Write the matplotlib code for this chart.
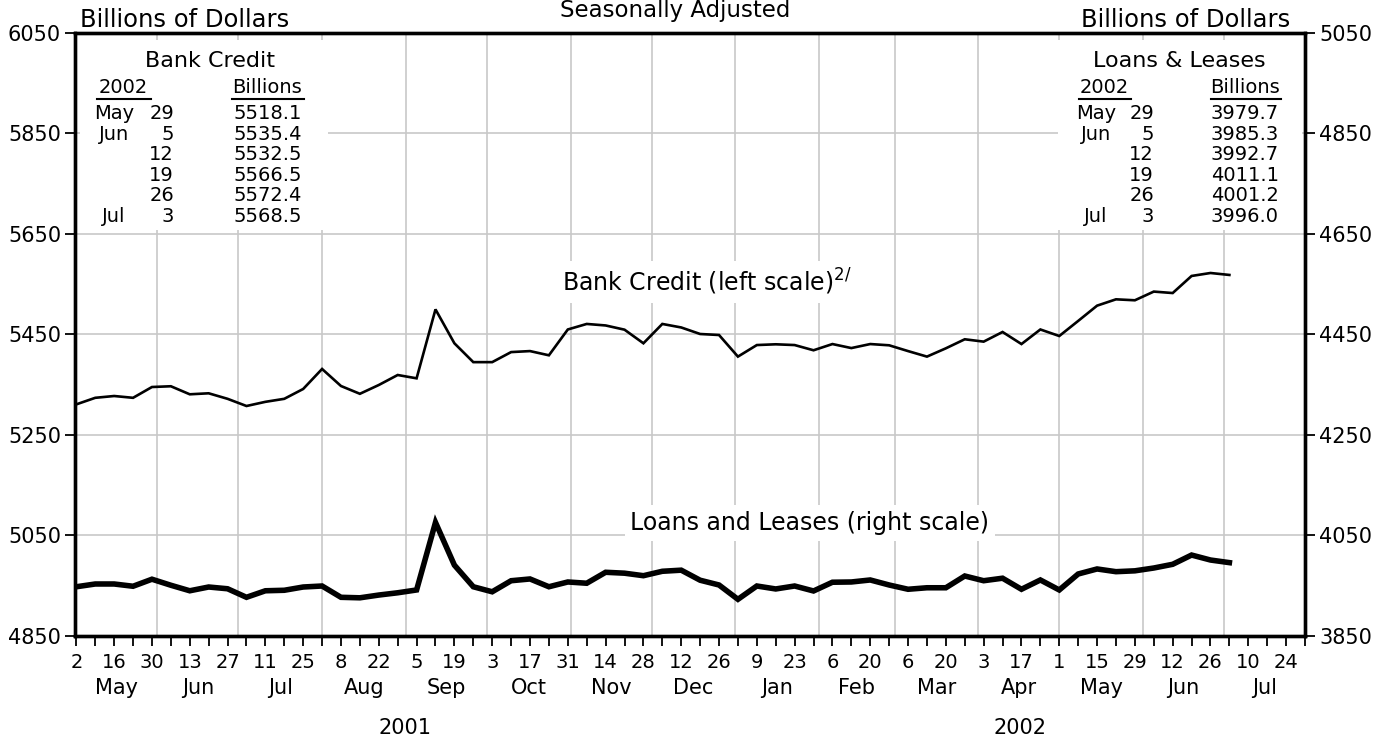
import numpy as np
import pandas as pd
import matplotlib
matplotlib.use('Agg')
import matplotlib.pyplot as plt
import matplotlib.dates as mdates
from matplotlib.patches import Rectangle
from matplotlib.lines import Line2D

# weekly observations (Wednesdays), May 2 2001 .. Jul 3 2002
weeks = pd.date_range('2001-05-02', periods=62, freq='7D')

bank_credit = [5311, 5324, 5327.6, 5324, 5345.5, 5347, 5331, 5333, 5322, 5307.7,
               5316, 5322, 5341.6, 5381.4, 5347.5, 5332, 5349.5, 5369.4, 5362.8, 5500,
               5432.5, 5395, 5395, 5415, 5417, 5408.6, 5460, 5471, 5468, 5459.6,
               5432.5, 5471, 5464, 5451, 5449, 5406, 5429, 5430.5, 5429, 5418.6,
               5431, 5423, 5431, 5428.5, 5417, 5406, 5422.5, 5440.5, 5435.8, 5455,
               5431, 5460, 5447, 5477, 5507.4, 5520, 5518.1, 5535.4, 5532.5, 5566.5,
               5572.4, 5568.5]

loans_leases = [3948, 3953.5, 3953.5, 3949, 3963, 3951, 3940, 3947.5, 3944, 3927,
                3940, 3941, 3947.5, 3949.5, 3927, 3926, 3931.5, 3936, 3941.6, 4076,
                3991, 3948, 3938, 3960, 3963.5, 3948, 3957.5, 3955, 3976.8, 3975,
                3970, 3978.8, 3981, 3961, 3951.5, 3923, 3949.5, 3943.6, 3949.5, 3939.6,
                3957, 3957.5, 3961.5, 3951.5, 3943, 3946, 3946, 3969.4, 3960, 3965,
                3943, 3961.5, 3941.6, 3973.4, 3983.4, 3978, 3979.7, 3985.3, 3992.7, 4011.1,
                4001.2, 3996.0]

table_months = ['May', 'Jun', '', '', '', 'Jul']
table_days = [29, 5, 12, 19, 26, 3]
bank_table = bank_credit[-6:]
loans_table = loans_leases[-6:]

left_ticks = list(range(4850, 6051, 200))
right_ticks = list(range(3850, 5051, 200))

W, H = 1387, 738
FONT = 'DejaVu Sans'
plt.rcParams['font.family'] = FONT
plt.rcParams['mathtext.default'] = 'regular'

fig = plt.figure(figsize=(W / 100, H / 100), dpi=100)
ax = fig.add_axes([75 / W, 1 - 636 / H, 1230 / W, 603 / H])
ax2 = ax.twinx()


def fx(px):
    return px / W


def fy(py):
    return 1 - py / H


def axx(px):
    return (px - 75) / 1230


def axy(py):
    return (636 - py) / 603


xstart = mdates.date2num(pd.Timestamp('2001-05-02')) - 0.5
xend = mdates.date2num(pd.Timestamp('2002-07-31'))
ax.set_xlim(xstart, xend)
ax.set_ylim(4850, 6050)
ax2.set_ylim(3850, 5050)

# grid: month starts and y ticks
grid_c = '#c8c8c8'
month_starts = pd.date_range('2001-06-01', '2002-07-01', freq='MS')
for m in month_starts:
    ax.axvline(m, color=grid_c, lw=1.2, zorder=0)
for v in left_ticks[1:-1]:
    ax.axhline(v, color=grid_c, lw=1.2, zorder=0)

# white panels behind the tables
ax.add_patch(Rectangle((axx(80), axy(230)), axx(328) - axx(80), axy(40) - axy(230),
                       transform=ax.transAxes, facecolor='white', edgecolor='none', zorder=1))
ax.add_patch(Rectangle((axx(1058), axy(230)), axx(1302) - axx(1058), axy(40) - axy(230),
                       transform=ax.transAxes, facecolor='white', edgecolor='none', zorder=1))

ax.plot(weeks, bank_credit, color='black', lw=1.9, zorder=3, solid_joinstyle='miter')
ax2.plot(weeks, loans_leases, color='black', lw=4.0, zorder=3, solid_joinstyle='miter')

# x ticks: weekly, labels every two weeks
tick_weeks = pd.date_range('2001-05-02', '2002-07-31', freq='7D')
major = tick_weeks[::2]
minor = tick_weeks[1::2]
ax.set_xticks(major)
ax.set_xticklabels([str(d.day) for d in major])
ax.set_xticks(minor, minor=True)
ax.tick_params(axis='x', which='both', direction='out', length=7, width=1.3,
               labelsize=14, pad=5)

ax.set_yticks(left_ticks)
ax2.set_yticks(right_ticks)
ax.tick_params(axis='y', direction='out', length=7, width=1.3, labelsize=15, pad=3)
ax2.tick_params(axis='y', direction='out', length=7, width=1.3, labelsize=15, pad=3)

for a in (ax, ax2):
    for s in a.spines.values():
        s.set_linewidth(2.4)

# month and year labels under the axis
months = pd.date_range('2001-05-01', '2002-07-01', freq='MS')
for m in months:
    a0 = max(mdates.date2num(m), xstart)
    a1 = min(mdates.date2num(m + pd.offsets.MonthBegin(1)), xend)
    ax.text((a0 + a1) / 2, axy(688), m.strftime('%b'), transform=ax.get_xaxis_transform(),
            ha='center', va='center', fontsize=15)
for yr in [2001, 2002]:
    a0 = max(mdates.date2num(pd.Timestamp(f'{yr}-01-01')), xstart)
    a1 = min(mdates.date2num(pd.Timestamp(f'{yr + 1}-01-01')), xend)
    ax.text((a0 + a1) / 2, axy(728), str(yr), transform=ax.get_xaxis_transform(),
            ha='center', va='center', fontsize=15)

# series labels
ax2.text(axx(707), axy(282), 'Bank Credit (left scale)$^{2/}$', transform=ax2.transAxes,
         ha='center', va='center', fontsize=17, zorder=2,
         bbox=dict(facecolor='white', edgecolor='none', pad=4))
ax2.text(axx(810), axy(523), 'Loans and Leases (right scale)', transform=ax2.transAxes,
         ha='center', va='center', fontsize=17, zorder=2,
         bbox=dict(facecolor='white', edgecolor='none', pad=4))

# headers
fig.text(fx(675), fy(17), 'Seasonally Adjusted', ha='center', va='baseline', fontsize=16.5)
fig.text(fx(80), fy(27), 'Billions of Dollars', ha='left', va='baseline', fontsize=17.5)
fig.text(fx(1290), fy(27), 'Billions of Dollars', ha='right', va='baseline', fontsize=17.5)


def draw_table(title, title_x, year_x, year_ul, bill_x, bill_ul, mon_x, day_x, val_x, vals):
    fig.text(fx(title_x), fy(67), title, ha='center', va='baseline', fontsize=16)
    fig.text(fx(year_x), fy(93), '2002', ha='center', va='baseline', fontsize=14)
    fig.text(fx(bill_x), fy(93), 'Billions', ha='center', va='baseline', fontsize=14)
    for x0, x1 in (year_ul, bill_ul):
        fig.add_artist(Line2D([fx(x0), fx(x1)], [fy(98.5), fy(98.5)], color='black', lw=1.5))
    for k in range(len(vals)):
        yb = fy(119 + 20.6 * k)
        if table_months[k]:
            fig.text(fx(mon_x), yb, table_months[k], ha='center', va='baseline', fontsize=14)
        fig.text(fx(day_x), yb, str(table_days[k]), ha='right', va='baseline', fontsize=14)
        fig.text(fx(val_x), yb, f'{vals[k]:.1f}', ha='right', va='baseline', fontsize=14)


draw_table('Bank Credit', 210, 123, (97, 151), 267, (232, 304), 114, 174, 302, bank_table)
draw_table('Loans & Leases', 1179, 1104, (1079, 1131), 1245, (1211, 1281), 1096, 1154, 1279,
           loans_table)

fig.savefig('out.png', dpi=100)
